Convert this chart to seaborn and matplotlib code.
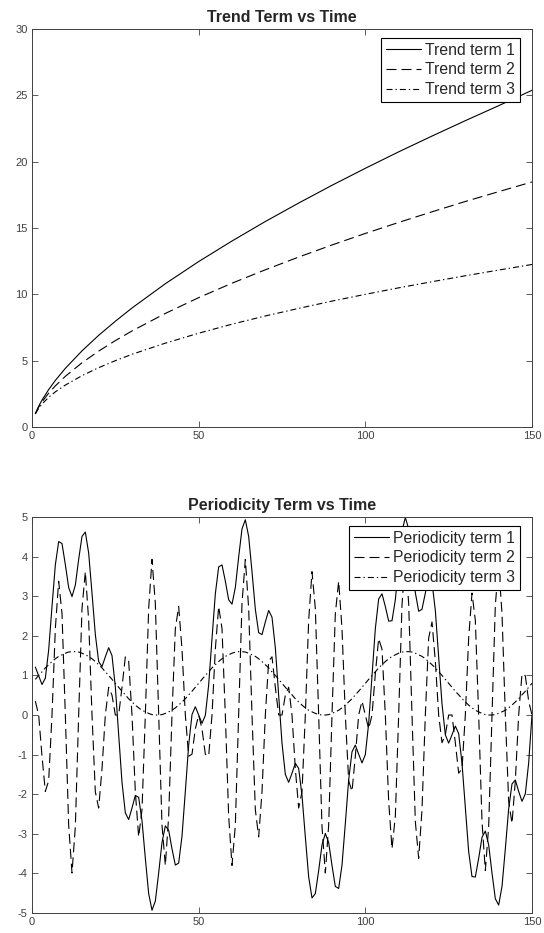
import numpy as np
import pandas as pd
import seaborn as sns
import matplotlib
matplotlib.use('Agg')
import matplotlib.pyplot as plt

# trend terms
trend_t = [1, 2, 3, 5, 7, 10, 15, 20, 25, 30, 40, 50, 60, 70, 80, 90, 100, 110, 120, 130, 140, 150]
trend_1 = [1.00, 1.56, 2.03, 2.82, 3.51, 4.42, 5.74, 6.91, 7.97, 8.97, 10.80, 12.47, 14.02, 15.49,
           16.88, 18.22, 19.50, 20.74, 21.93, 23.09, 24.22, 25.38]
trend_2 = [1.00, 1.50, 1.90, 2.55, 3.10, 3.82, 4.84, 5.72, 6.51, 7.24, 8.56, 9.75, 10.84, 11.85,
           12.81, 13.72, 14.59, 15.42, 16.22, 17.00, 17.74, 18.47]
trend_3 = [1.00, 1.41, 1.73, 2.24, 2.65, 3.16, 3.87, 4.47, 5.00, 5.48, 6.32, 7.07, 7.75, 8.37,
           8.94, 9.49, 10.00, 10.49, 10.95, 11.40, 11.83, 12.25]
trend_labels = ['Trend term 1', 'Trend term 2', 'Trend term 3']

# periodicity terms, one value per time step 1..150
period_t = list(range(1, 151))
period_1 = [1.21, 0.99, 0.77, 0.93, 1.64, 2.74, 3.79, 4.38, 4.33, 3.80,
            3.22, 2.99, 3.28, 3.93, 4.51, 4.62, 4.09, 3.08, 2.03, 1.35,
            1.22, 1.47, 1.70, 1.50, 0.71, -0.50, -1.70, -2.47, -2.64, -2.35,
            -2.03, -2.08, -2.67, -3.62, -4.51, -4.93, -4.70, -3.99, -3.22, -2.80,
            -2.91, -3.38, -3.79, -3.74, -3.06, -1.93, -0.76, 0.01, 0.21, 0.00,
            -0.21, -0.01, 0.76, 1.93, 3.06, 3.74, 3.79, 3.38, 2.91, 2.80,
            3.22, 3.99, 4.70, 4.93, 4.51, 3.62, 2.67, 2.08, 2.03, 2.35,
            2.64, 2.47, 1.70, 0.50, -0.71, -1.50, -1.70, -1.47, -1.22, -1.35,
            -2.03, -3.08, -4.09, -4.62, -4.51, -3.93, -3.28, -2.99, -3.22, -3.80,
            -4.33, -4.38, -3.79, -2.74, -1.64, -0.93, -0.76, -0.99, -1.21, -1.00,
            -0.21, 0.99, 2.18, 2.93, 3.06, 2.74, 2.37, 2.38, 2.91, 3.80,
            4.64, 4.99, 4.70, 3.93, 3.09, 2.62, 2.67, 3.08, 3.45, 3.35,
            2.64, 1.47, 0.28, -0.50, -0.71, -0.50, -0.28, -0.47, -1.22, -2.35,
            -3.45, -4.08, -4.09, -3.62, -3.09, -2.93, -3.28, -3.99, -4.64, -4.80,
            -4.33, -3.38, -2.37, -1.74, -1.64, -1.93, -2.18, -1.99, -1.21, 0.00]
period_2 = [0.35, 0.00, -1.04, -1.93, -1.66, 0.00, 2.18, 3.38, 2.56, 0.00,
            -2.78, -3.99, -2.82, 0.00, 2.69, 3.62, 2.39, 0.00, -1.94, -2.35,
            -1.36, 0.00, 0.70, 0.50, 0.00, 0.00, 0.70, 1.47, 1.36, 0.00,
            -1.94, -3.08, -2.39, 0.00, 2.69, 3.93, 2.82, 0.00, -2.78, -3.80,
            -2.56, 0.00, 2.18, 2.74, 1.66, 0.00, -1.04, -0.99, -0.35, 0.00,
            -0.35, -0.99, -1.04, 0.00, 1.66, 2.74, 2.18, 0.00, -2.56, -3.80,
            -2.78, 0.00, 2.82, 3.93, 2.69, 0.00, -2.39, -3.08, -1.94, 0.00,
            1.36, 1.47, 0.70, 0.00, 0.00, 0.50, 0.70, 0.00, -1.36, -2.35,
            -1.94, 0.00, 2.39, 3.62, 2.69, 0.00, -2.82, -3.99, -2.78, 0.00,
            2.56, 3.38, 2.18, 0.00, -1.66, -1.93, -1.04, 0.00, 0.35, 0.00,
            -0.35, 0.00, 1.04, 1.93, 1.66, 0.00, -2.18, -3.38, -2.56, 0.00,
            2.78, 3.99, 2.82, 0.00, -2.69, -3.62, -2.39, 0.00, 1.94, 2.35,
            1.36, 0.00, -0.70, -0.50, 0.00, 0.00, -0.70, -1.47, -1.36, 0.00,
            1.94, 3.08, 2.39, 0.00, -2.69, -3.93, -2.82, 0.00, 2.78, 3.80,
            2.56, 0.00, -2.18, -2.74, -1.66, 0.00, 1.04, 0.99, 0.35, 0.00]
period_3 = [0.90, 1.00, 1.09, 1.19, 1.27, 1.35, 1.42, 1.48, 1.52, 1.56,
            1.59, 1.60, 1.60, 1.59, 1.56, 1.52, 1.48, 1.42, 1.35, 1.27,
            1.19, 1.09, 1.00, 0.90, 0.80, 0.70, 0.60, 0.51, 0.41, 0.33,
            0.25, 0.18, 0.12, 0.08, 0.04, 0.01, 0.00, 0.00, 0.01, 0.04,
            0.08, 0.12, 0.18, 0.25, 0.33, 0.41, 0.51, 0.60, 0.70, 0.80,
            0.90, 1.00, 1.09, 1.19, 1.27, 1.35, 1.42, 1.48, 1.52, 1.56,
            1.59, 1.60, 1.60, 1.59, 1.56, 1.52, 1.48, 1.42, 1.35, 1.27,
            1.19, 1.09, 1.00, 0.90, 0.80, 0.70, 0.60, 0.51, 0.41, 0.33,
            0.25, 0.18, 0.12, 0.08, 0.04, 0.01, 0.00, 0.00, 0.01, 0.04,
            0.08, 0.12, 0.18, 0.25, 0.33, 0.41, 0.51, 0.60, 0.70, 0.80,
            0.90, 1.00, 1.09, 1.19, 1.27, 1.35, 1.42, 1.48, 1.52, 1.56,
            1.59, 1.60, 1.60, 1.59, 1.56, 1.52, 1.48, 1.42, 1.35, 1.27,
            1.19, 1.09, 1.00, 0.90, 0.80, 0.70, 0.60, 0.51, 0.41, 0.33,
            0.25, 0.18, 0.12, 0.08, 0.04, 0.01, 0.00, 0.00, 0.01, 0.04,
            0.08, 0.12, 0.18, 0.25, 0.33, 0.41, 0.51, 0.60, 0.70, 0.80]
period_labels = ['Periodicity term 1', 'Periodicity term 2', 'Periodicity term 3']

sns.set_theme(style='ticks')
plt.rcParams['font.family'] = ['Liberation Sans', 'DejaVu Sans']
plt.rcParams['axes.unicode_minus'] = False

# octave-like line styles: solid, dashed, dash-dot
line_styles = ['-', (0, (9, 4.5)), (0, (5.4, 2.7, 1.2, 2.7))]
axis_col = '#404040'

fig = plt.figure(figsize=(5.44, 9.33), dpi=100)
ax1 = fig.add_axes([32/544, 1 - 427/933, 500/544, 398/933])
ax2 = fig.add_axes([32/544, 1 - 913/933, 500/544, 396/933])


def style_axes(ax):
    ax.tick_params(direction='in', top=True, right=True, length=4, width=0.6,
                   colors=axis_col, labelsize=8, pad=3)
    for sp in ax.spines.values():
        sp.set_visible(True)
        sp.set_color(axis_col)
        sp.set_linewidth(0.7)
    ax.set_xlabel('')
    ax.set_ylabel('')


def add_legend(ax, h_px):
    # legend sits ~12 px in from the right edge and ~9 px down from the top
    leg = ax.legend(loc='upper right', bbox_to_anchor=(1 - 12/500, 1 - 9/h_px),
                    fontsize=11.3, frameon=True, fancybox=False,
                    edgecolor='black', framealpha=1, borderaxespad=0,
                    handlelength=2.2, handletextpad=0.3, labelspacing=0.3, borderpad=0.3)
    leg.get_frame().set_linewidth(0.8)


# top: trend terms
for ys, lab, ls in zip([trend_1, trend_2, trend_3], trend_labels, line_styles):
    sns.lineplot(x=trend_t, y=ys, ax=ax1, color='black', linewidth=0.8,
                 linestyle=ls, label=lab, errorbar=None)
ax1.set_xlim(0, 150)
ax1.set_ylim(0, 30)
ax1.set_xticks([0, 50, 100, 150])
ax1.set_yticks([0, 5, 10, 15, 20, 25, 30])
ax1.set_title('Trend Term vs Time', fontsize=11.5, fontweight='bold', pad=5)
style_axes(ax1)
add_legend(ax1, 398)

# bottom: periodicity terms
for ys, lab, ls in zip([period_1, period_2, period_3], period_labels, line_styles):
    sns.lineplot(x=period_t, y=ys, ax=ax2, color='black', linewidth=0.8,
                 linestyle=ls, label=lab, errorbar=None)
ax2.set_xlim(0, 150)
ax2.set_ylim(-5, 5)
ax2.set_xticks([0, 50, 100, 150])
ax2.set_yticks(list(range(-5, 6)))
ax2.set_title('Periodicity Term vs Time', fontsize=11.5, fontweight='bold', pad=5)
style_axes(ax2)
add_legend(ax2, 396)

fig.savefig('out.png', dpi=100)
